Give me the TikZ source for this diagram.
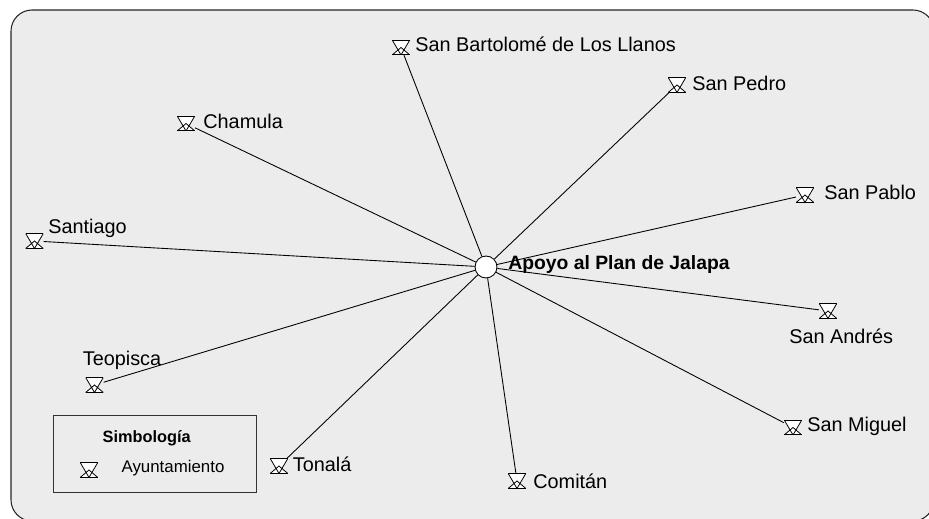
\documentclass[tikz,border=0pt]{standalone}
\usepackage{fontspec}
\setmainfont{Liberation Sans}
\usepackage{tikz}
\begin{document}
\begin{tikzpicture}[x=0.02cm,y=-0.02cm]
    \tikzset{etiqueta/.style = {inner sep=0pt,anchor=west,font=\fontsize{11.3}{13}\selectfont}}
    \tikzset{enlace/.style = {draw=black,line width=0.5pt}}
    \tikzset{centro/.style = {shape=circle,draw,fill=white,line width=0.5pt,minimum size=12.5pt,inner sep=0pt}}
    \tikzset{ayunta/.style = {minimum width=10pt,minimum height=8.5pt,inner sep=0pt,
        path picture={
            \coordinate (so) at (path picture bounding box.south west);
            \coordinate (se) at (path picture bounding box.south east);
            \coordinate (no) at (path picture bounding box.north west);
            \coordinate (ne) at (path picture bounding box.north east);
            \coordinate (su) at (path picture bounding box.south);
            \coordinate (me) at (path picture bounding box.center);
            \fill[white] (so) -- (se) -- (me) -- cycle;
            \fill[white] (no) -- (ne) -- (su) -- cycle;
            \draw[line width=1pt] (no) -- (ne) (so) -- (se);
            \draw[line width=0.45pt] (no) -- (su) -- (ne) (so) -- (me) -- (se);
        }}}

    \useasboundingbox (0,0) rectangle (929,519);
    \clip (0,0) rectangle (929,519);
    \path[draw=black!85,fill=black!7.5,line width=0.6pt,rounded corners=12pt] (11,10) rectangle (934,521);

    \node[centro] (plan) at (486,267) {};

    \node[ayunta] (bartolome) at (401,47.5) {};
    \node[ayunta] (pedro) at (677,85) {};
    \node[ayunta] (chamula) at (186,123.5) {};
    \node[ayunta] (pablo) at (805,195) {};
    \node[ayunta] (santiago) at (34.5,241) {};
    \node[ayunta] (andres) at (828,311) {};
    \node[ayunta] (teopisca) at (94.5,385) {};
    \node[ayunta] (miguel) at (793,427.5) {};
    \node[ayunta] (tonala) at (279,466) {};
    \node[ayunta] (comitan) at (517,481) {};

    \node[etiqueta] (nbartolome) at (415,44.5) {San Bartolomé de Los Llanos};
    \node[etiqueta] (npedro) at (692,83) {San Pedro};
    \node[etiqueta] (nchamula) at (203,121) {Chamula};
    \node[etiqueta] (npablo) at (824,192.5) {San Pablo};
    \node[etiqueta] (nsantiago) at (48,228) {Santiago};
    \node[etiqueta] (nandres) at (789,336) {San Andrés};
    \node[etiqueta] (nteopisca) at (82.5,360.5) {Teopisca};
    \node[etiqueta] (nmiguel) at (807,426.5) {San Miguel};
    \node[etiqueta] (ntonala) at (292.5,464.5) {Tonalá};
    \node[etiqueta] (ncomitan) at (533,481.5) {Comitán};
    \node[etiqueta,font=\fontsize{11}{13}\selectfont\bfseries] (nplan) at (508,265) {Apoyo al Plan de Jalapa};

    \draw[enlace] (plan) -- (bartolome);
    \draw[enlace] (plan) -- (pedro);
    \draw[enlace] (plan) -- (chamula);
    \draw[enlace] (plan) -- (pablo);
    \draw[enlace] (plan) -- (santiago);
    \draw[enlace] (plan) -- (andres);
    \draw[enlace] (plan) -- (teopisca);
    \draw[enlace] (plan) -- (miguel);
    \draw[enlace] (plan) -- (tonala);
    \draw[enlace] (plan) -- (comitan);

    \node[draw=black!80,line width=0.5pt,minimum width=115.5pt,minimum height=43.5pt,inner sep=0pt] (leyenda) at (155.2,454) {};
    \node[etiqueta,anchor=center,font=\fontsize{9.3}{11}\selectfont\bfseries] (ntitulo) at (146.7,438) {Simbología};
    \node[ayunta] (simbolo) at (89,470) {};
    \node[etiqueta,anchor=center,font=\fontsize{9.6}{11}\selectfont] (nsimbolo) at (173,468) {Ayuntamiento};
\end{tikzpicture}
\end{document}
